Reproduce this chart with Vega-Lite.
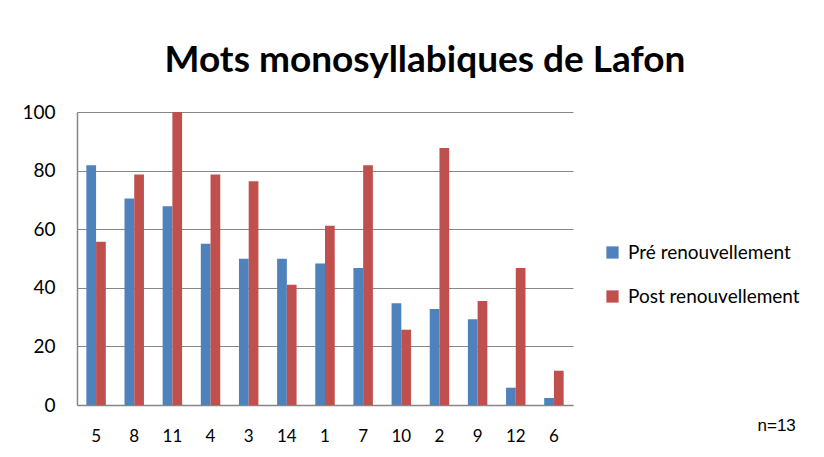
{
  "$schema": "https://vega.github.io/schema/vega-lite/v6.json",
  "width": 496,
  "height": 293,
  "autosize": {"type": "none"},
  "padding": {"left": 77, "top": 112, "right": 251, "bottom": 52},
  "background": "white",
  "title": {
    "text": "Mots monosyllabiques de Lafon",
    "font": "Lato",
    "fontSize": 37,
    "fontWeight": "bold",
    "color": "#000000",
    "anchor": "middle",
    "dx": 100,
    "offset": 23
  },
  "data": {
    "values": [
      {"cat": "5", "serie": "Pré renouvellement", "v": 81.8},
      {"cat": "5", "serie": "Post renouvellement", "v": 55.7},
      {"cat": "8", "serie": "Pré renouvellement", "v": 70.5},
      {"cat": "8", "serie": "Post renouvellement", "v": 78.7},
      {"cat": "11", "serie": "Pré renouvellement", "v": 67.8},
      {"cat": "11", "serie": "Post renouvellement", "v": 100},
      {"cat": "4", "serie": "Pré renouvellement", "v": 55.0},
      {"cat": "4", "serie": "Post renouvellement", "v": 78.7},
      {"cat": "3", "serie": "Pré renouvellement", "v": 49.9},
      {"cat": "3", "serie": "Post renouvellement", "v": 76.4},
      {"cat": "14", "serie": "Pré renouvellement", "v": 49.9},
      {"cat": "14", "serie": "Post renouvellement", "v": 41.0},
      {"cat": "1", "serie": "Pré renouvellement", "v": 48.3},
      {"cat": "1", "serie": "Post renouvellement", "v": 61.2},
      {"cat": "7", "serie": "Pré renouvellement", "v": 46.8},
      {"cat": "7", "serie": "Post renouvellement", "v": 81.8},
      {"cat": "10", "serie": "Pré renouvellement", "v": 34.7},
      {"cat": "10", "serie": "Post renouvellement", "v": 25.7},
      {"cat": "2", "serie": "Pré renouvellement", "v": 32.8},
      {"cat": "2", "serie": "Post renouvellement", "v": 87.7},
      {"cat": "9", "serie": "Pré renouvellement", "v": 29.3},
      {"cat": "9", "serie": "Post renouvellement", "v": 35.5},
      {"cat": "12", "serie": "Pré renouvellement", "v": 5.9},
      {"cat": "12", "serie": "Post renouvellement", "v": 46.8},
      {"cat": "6", "serie": "Pré renouvellement", "v": 2.4},
      {"cat": "6", "serie": "Post renouvellement", "v": 11.7}
    ]
  },
  "mark": {"type": "bar"},
  "encoding": {
    "x": {
      "field": "cat",
      "type": "nominal",
      "sort": ["5", "8", "11", "4", "3", "14", "1", "7", "10", "2", "9", "12", "6"],
      "scale": {"paddingInner": 0.49, "paddingOuter": 0.245},
      "axis": {
        "title": "n=13",
        "titleFont": "Liberation Sans",
        "titleFontSize": 17,
        "titleFontWeight": "normal",
        "titleColor": "#000000",
        "titleAnchor": "start",
        "titleAlign": "left",
        "titleBaseline": "middle",
        "titleX": 680,
        "titleY": 20,
        "labelAngle": 0,
        "labelFont": "Lato",
        "labelFontSize": 17,
        "labelColor": "#000000",
        "labelPadding": 23,
        "ticks": false,
        "domainColor": "#868686",
        "domainWidth": 1.5
      }
    },
    "xOffset": {
      "field": "serie",
      "type": "nominal",
      "sort": ["Pré renouvellement", "Post renouvellement"]
    },
    "y": {
      "field": "v",
      "type": "quantitative",
      "scale": {"domain": [0, 100], "nice": false},
      "axis": {
        "title": null,
        "values": [0, 20, 40, 60, 80, 100],
        "labelFont": "Lato",
        "labelFontSize": 19,
        "labelColor": "#000000",
        "labelPadding": 22,
        "ticks": false,
        "domain": true,
        "domainColor": "#868686",
        "domainWidth": 1.5,
        "grid": true,
        "gridColor": "#868686",
        "gridWidth": 1.2
      }
    },
    "color": {
      "field": "serie",
      "type": "nominal",
      "sort": ["Pré renouvellement", "Post renouvellement"],
      "scale": {"range": ["#4F81BD", "#C0504D"]},
      "legend": {
        "title": null,
        "orient": "none",
        "legendX": 526,
        "legendY": 131,
        "symbolType": "square",
        "symbolSize": 150,
        "symbolStrokeWidth": 0,
        "labelFont": "Lato",
        "labelFontSize": 19,
        "labelLimit": 300,
        "labelColor": "#000000",
        "labelOffset": 6,
        "rowPadding": 24
      }
    }
  },
  "config": {"view": {"stroke": null}}
}
